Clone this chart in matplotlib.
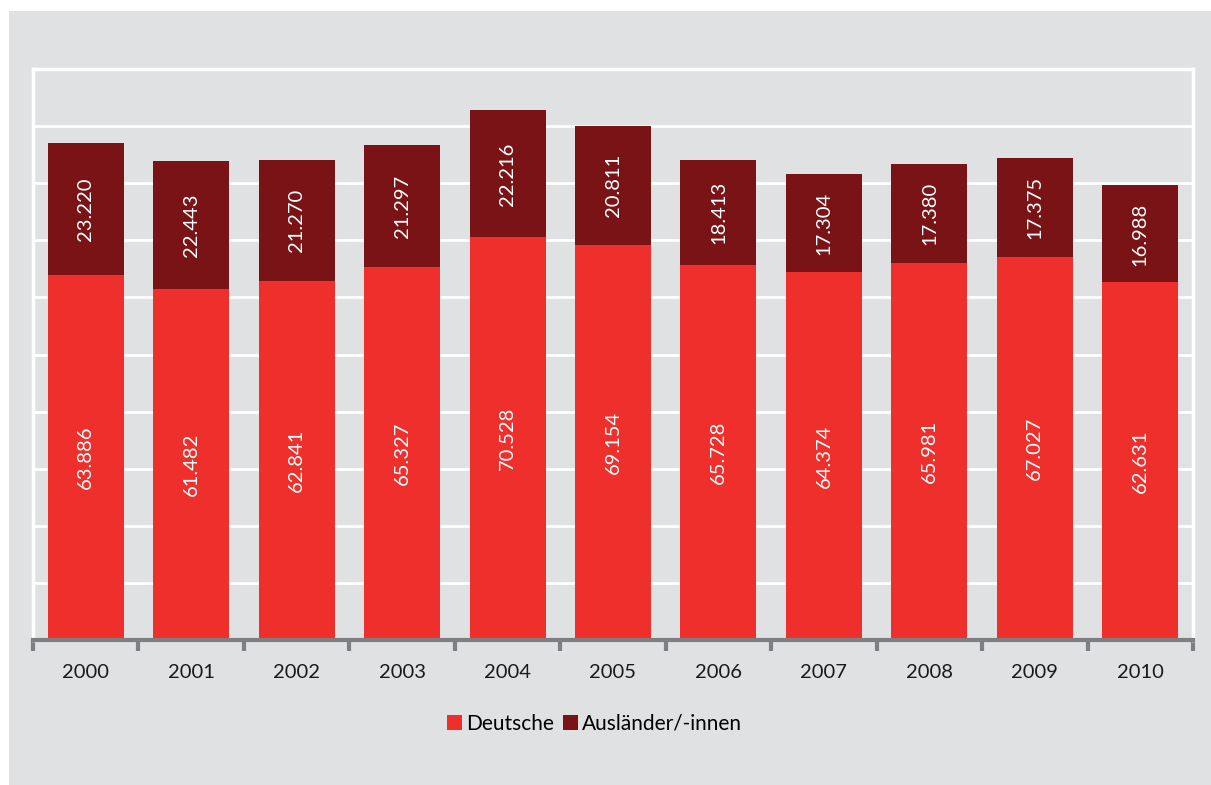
import matplotlib
matplotlib.use("Agg")
import matplotlib.pyplot as plt
from matplotlib.patches import Rectangle
import numpy as np

years = ["2000", "2001", "2002", "2003", "2004", "2005", "2006", "2007", "2008", "2009", "2010"]
deutsche = [63886, 61482, 62841, 65327, 70528, 69154, 65728, 64374, 65981, 67027, 62631]
auslaender = [23220, 22443, 21270, 21297, 22216, 20811, 18413, 17304, 17380, 17375, 16988]
series_names = ["Deutsche", "Ausländer/-innen"]

RED = "#EE2F2B"
DARK = "#7A1315"
GRAY = "#E0E1E3"
AXIS = "#7E7F83"

plt.rcParams['font.family'] = ['Lato', 'DejaVu Sans']

fig = plt.figure(figsize=(12.11, 7.85), dpi=100)
fig.patch.set_facecolor("white")
fig.patches.append(Rectangle((9 / 1211, 0), 1 - 9 / 1211, 1 - 11 / 785,
                             transform=fig.transFigure, facecolor=GRAY,
                             edgecolor="none", zorder=-10))

ax = fig.add_axes([33 / 1211, 1 - 640 / 785, (1193 - 33) / 1211, (640 - 69) / 785])
ax.set_facecolor(GRAY)

x = np.arange(len(years))
w = 0.72
ax.bar(x, deutsche, width=w, color=RED, label=series_names[0], zorder=3)
ax.bar(x, auslaender, width=w, bottom=deutsche, color=DARK, label=series_names[1], zorder=3)

for i in range(len(years)):
    d = deutsche[i]
    a = auslaender[i]
    ax.text(x[i], d / 2, f"{d:,}".replace(",", "."), rotation=90, ha="center",
            va="center", color="white", fontsize=14.5, zorder=4)
    ax.text(x[i], d + a / 2, f"{a:,}".replace(",", "."), rotation=90, ha="center",
            va="center", color="white", fontsize=14.5, zorder=4)

ax.set_xlim(-0.5, len(years) - 0.5)
ax.set_ylim(0, 100000)
ax.set_yticks(np.arange(0, 100001, 10000))
ax.yaxis.grid(True, color="white", linewidth=2, zorder=1)
ax.set_axisbelow(True)
ax.tick_params(axis="y", left=False, labelleft=False)

ax.set_xticks(x)
ax.set_xticklabels(years, fontsize=14.5, color="#1a1a1a")
ax.set_xticks(np.arange(-0.5, len(years), 1.0), minor=True)
ax.tick_params(axis="x", which="major", length=0, pad=17)
ax.tick_params(axis="x", which="minor", length=8, width=3, color=AXIS, direction="out")

for s in ["left", "right", "top"]:
    ax.spines[s].set_color("white")
    ax.spines[s].set_linewidth(2.5)
ax.spines["bottom"].set_color(AXIS)
ax.spines["bottom"].set_linewidth(3)
ax.spines["bottom"].set_zorder(5)

fig.legend(loc="center", bbox_to_anchor=(594.5 / 1211, 1 - 724 / 785), ncol=2, frameon=False,
           fontsize=15, handlelength=0.7, handleheight=0.7, handletextpad=0.2,
           columnspacing=0.45, borderaxespad=0)

fig.savefig("out.png", dpi=100, facecolor=fig.get_facecolor())
